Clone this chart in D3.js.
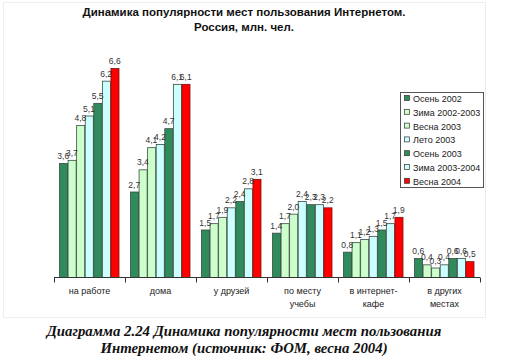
<!DOCTYPE html>
<html lang="ru">
<head>
<meta charset="UTF-8">
<script src="https://cdn.jsdelivr.net/npm/d3@7"></script>
<style>
	body { margin: 0; background: #fff; }
	svg { font-family: Arial, "Liberation Sans", sans-serif; }
	.val { font-size: 8.5px; fill: #333; }
	.cat { font-size: 9px; fill: #222; }
	.title { font-size: 11.5px; font-weight: bold; fill: #111; }
	.caption { font-family: "Liberation Serif", "DejaVu Serif", serif; font-size: 14.8px; font-weight: bold; font-style: italic; fill: #111; }
</style>
</head>
<body>
<div id="chart"></div>
<script>
	const categories = [['на работе'], ['дома'], ['у друзей'], ['по месту', 'учебы'], ['в интернет-', 'кафе'], ['в других', 'местах']];
	const seriesNames = ['Осень 2002', 'Зима 2002-2003', 'Весна 2003', 'Лето 2003', 'Осень 2003', 'Зима 2003-2004', 'Весна 2004'];
	const seriesColors = ['#2f8a5c', '#ccffcc', '#ccffcc', '#ccffff', '#2f8a5c', '#ccffff', '#ff0000'];
	const values = [
		[3.6, 3.7, 4.8, 5.1, 5.5, 6.2, 6.6],
		[2.7, 3.4, 4.1, 4.2, 4.7, 6.1, 6.1],
		[1.5, 1.7, 1.9, 2.2, 2.4, 2.8, 3.1],
		[1.4, 1.7, 2.0, 2.4, 2.3, 2.3, 2.2],
		[0.8, 1.1, 1.2, 1.3, 1.5, 1.7, 1.9],
		[0.6, 0.4, 0.3, 0.4, 0.6, 0.6, 0.5]
	];

	const width = 505, height = 361;
	const left = 54, right = 480, base = 277;

	const svg = d3.select('#chart').append('svg')
		.attr('width', width)
		.attr('height', height);

	// faint frame round the chart area
	svg.append('rect')
		.attr('x', 3.5).attr('y', 2.5)
		.attr('width', 482).attr('height', 315)
		.attr('fill', 'none')
		.attr('stroke', '#eeeeee');

	const x0 = d3.scaleBand()
		.domain(d3.range(categories.length))
		.range([left, right]);

	const x1 = d3.scaleBand()
		.domain(d3.range(seriesNames.length))
		.range([5, x0.bandwidth() - 6]);

	const y = d3.scaleLinear()
		.domain([0, 6.6])
		.range([base, 68]);

	const groups = svg.selectAll('g.cat-group')
		.data(values)
		.enter().append('g')
		.attr('class', 'cat-group')
		.attr('transform', (d, i) => `translate(${x0(i)},0)`);

	groups.selectAll('rect')
		.data(d => d)
		.enter().append('rect')
		.attr('x', (d, j) => x1(j) + 0.5)
		.attr('y', d => y(d) + 0.5)
		.attr('width', x1.bandwidth() - 0.5)
		.attr('height', d => base - y(d))
		.attr('fill', (d, j) => seriesColors[j])
		.attr('stroke', (d, j) => j === 6 ? '#7a1010' : '#3a4a40')
		.attr('stroke-width', 0.8);

	groups.selectAll('text.val')
		.data(d => d)
		.enter().append('text')
		.attr('class', 'val')
		.attr('x', (d, j) => x1(j) + x1.bandwidth() / 2)
		.attr('y', d => y(d) - 4)
		.attr('text-anchor', 'middle')
		.text(d => d.toFixed(1).replace('.', ','));

	// category axis
	const axis = d3.axisBottom(d3.scaleLinear().domain([0, categories.length]).range([left, right]))
		.ticks(categories.length)
		.tickSize(5)
		.tickFormat('');

	svg.append('g')
		.attr('transform', `translate(0,${base + 0.5})`)
		.call(axis)
		.call(g => g.select('.domain').attr('stroke', '#333').attr('d', `M${left},0H${right}`))
		.call(g => g.selectAll('.tick line').attr('stroke', '#333'));

	const labels = svg.selectAll('text.cat')
		.data(categories)
		.enter().append('text')
		.attr('class', 'cat')
		.attr('text-anchor', 'middle')
		.attr('x', (d, i) => x0(i) + x0.bandwidth() / 2)
		.attr('y', 294);
	labels.selectAll('tspan')
		.data(d => d)
		.enter().append('tspan')
		.attr('x', function() { return d3.select(this.parentNode).attr('x'); })
		.attr('dy', (d, k) => k === 0 ? 0 : 13)
		.text(d => d);

	// legend
	const legend = svg.append('g').attr('transform', 'translate(400,92)');
	legend.append('rect')
		.attr('x', 0.5).attr('y', 0.5)
		.attr('width', 83).attr('height', 95)
		.attr('fill', '#fff')
		.attr('stroke', '#555');
	const items = legend.selectAll('g.item')
		.data(seriesNames)
		.enter().append('g')
		.attr('class', 'item')
		.attr('transform', (d, i) => `translate(4,${7 + i * 13.8})`);
	items.append('rect')
		.attr('x', 0.5).attr('y', -3.5)
		.attr('width', 5).attr('height', 5)
		.attr('fill', (d, i) => seriesColors[i])
		.attr('stroke', '#333')
		.attr('stroke-width', 0.7);
	items.append('text')
		.attr('class', 'cat')
		.attr('x', 9)
		.attr('y', 3)
		.text(d => d);

	// titles
	svg.append('text').attr('class', 'title').attr('x', 244).attr('y', 16).attr('text-anchor', 'middle')
		.text('Динамика популярности мест пользования Интернетом.');
	svg.append('text').attr('class', 'title').attr('x', 244).attr('y', 31).attr('text-anchor', 'middle')
		.text('Россия, млн. чел.');

	svg.append('text').attr('class', 'caption').attr('x', 244).attr('y', 336).attr('text-anchor', 'middle')
		.text('Диаграмма 2.24 Динамика популярности мест пользования');
	svg.append('text').attr('class', 'caption').attr('x', 244).attr('y', 353).attr('text-anchor', 'middle')
		.text('Интернетом (источник: ФОМ, весна 2004)');
</script>
</body>
</html>
